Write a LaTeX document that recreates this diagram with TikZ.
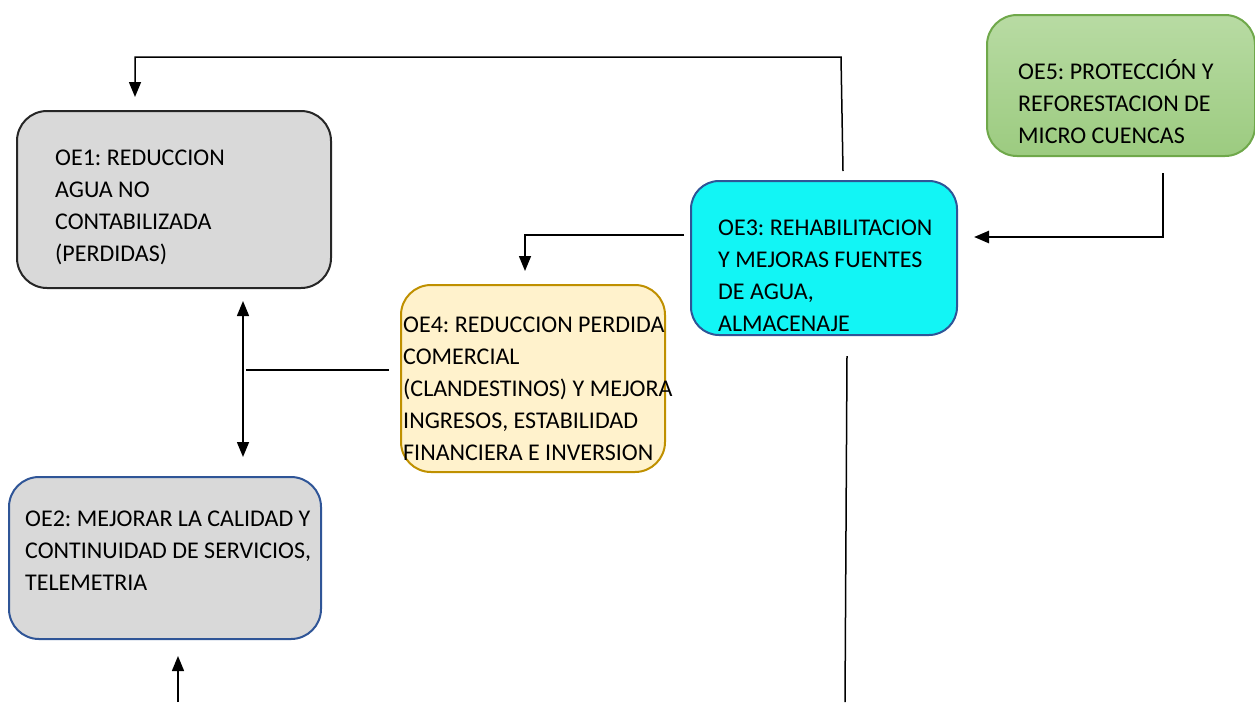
\documentclass[tikz,border=0pt]{standalone}
\usepackage{fontspec}
\setmainfont{Carlito}
\usetikzlibrary{arrows.meta}
\frenchspacing
\definecolor{boxgray}{HTML}{D9D9D9}
\definecolor{edgeblue}{HTML}{2F5597}
\definecolor{cyanfill}{HTML}{12F5F5}
\definecolor{creamfill}{HTML}{FFF2CC}
\definecolor{goldedge}{HTML}{BF9000}
\definecolor{greentop}{HTML}{B8DBA3}
\definecolor{greenbot}{HTML}{9CCB80}
\definecolor{greenedge}{HTML}{6FA84A}
\definecolor{darkedge}{HTML}{262626}
\tikzset{
  box/.style={rectangle, rounded corners=30pt, line width=2pt, inner sep=0pt},
  txt/.style={anchor=north west, inner sep=0pt, align=left,
    font=\fontsize{24}{32}\selectfont, text=black},
  conn/.style={line width=1.5pt, draw=black},
  arr/.style={conn, -{Triangle[length=15pt,width=12pt]}},
  darr/.style={conn, {Triangle[length=15pt,width=12pt]}-{Triangle[length=15pt,width=12pt]}},
}
\begin{document}
\begin{tikzpicture}[x=1pt,y=-1pt]
\useasboundingbox (0,0) rectangle (1255,702);

% boxes
\node[box, draw=darkedge, fill=boxgray, minimum width=314pt, minimum height=177pt] (oe1) at (174,199.5) {};
\node[box, draw=edgeblue, fill=boxgray, minimum width=312pt, minimum height=162pt] (oe2) at (165,558) {};
\node[box, draw=edgeblue, fill=cyanfill, rounded corners=28pt, minimum width=266pt, minimum height=154pt] (oe3) at (824,258) {};
\node[box, draw=goldedge, fill=creamfill, minimum width=264pt, minimum height=187pt] (oe4) at (533,378.5) {};
\node[box, draw=greenedge, top color=greentop, bottom color=greenbot, minimum width=268pt, minimum height=141pt] (oe5) at (1121,85.5) {};

% texts
\node[txt] (t1) at (55,150) {OE1: REDUCCION\\AGUA NO\\CONTABILIZADA\\(PERDIDAS)};
\node[txt] (t2) at (25,511) {OE2: MEJORAR LA CALIDAD Y\\CONTINUIDAD DE SERVICIOS,\\TELEMETRIA};
\node[txt] (t3) at (718,220) {OE3: REHABILITACION\\Y MEJORAS FUENTES\\DE AGUA,\\ALMACENAJE};
\node[txt] (t4) at (403,317) {OE4: REDUCCION PERDIDA\\COMERCIAL\\(CLANDESTINOS) Y MEJORA\\INGRESOS, ESTABILIDAD\\FINANCIERA E INVERSION};
\node[txt] (t5) at (1018,59) {OE5: PROTECCIÓN Y\\REFORESTACION DE\\MICRO CUENCAS};

% connectors
\coordinate (c1) at ([xshift=19pt,yshift=9pt]oe3.north);
\coordinate (c1b) at (841,57);
\draw[arr] (c1) -- (c1b) -| ([xshift=-39pt,yshift=13pt]oe1.north);

\coordinate (c5) at ([xshift=42pt,yshift=-16pt]oe5.south);
\draw[arr, line width=2.5pt] (c5) |- ([xshift=16pt,yshift=21pt]oe3.east);

\coordinate (c3) at ([xshift=-6pt,yshift=23pt]oe3.west);
\draw[arr] (c3) -| ([xshift=-8pt,yshift=13pt]oe4.north);

\coordinate (d1) at ([xshift=69pt,yshift=-12pt]oe1.south);
\draw[darr] (d1) -- ([xshift=78pt,yshift=19pt]oe2.north);

\coordinate (h1) at ([xshift=-11pt,yshift=8.5pt]oe4.west);
\coordinate (h2) at (246,370);
\draw[conn] (h1) -- (h2);

\coordinate (c6) at (178,702);
\draw[arr] (c6) -- ([xshift=13pt,yshift=-16pt]oe2.south);

\coordinate (c7) at ([xshift=23pt,yshift=-20pt]oe3.south);
\coordinate (c8) at (845,702);
\draw[conn] (c7) -- (c8);
\end{tikzpicture}
\end{document}
